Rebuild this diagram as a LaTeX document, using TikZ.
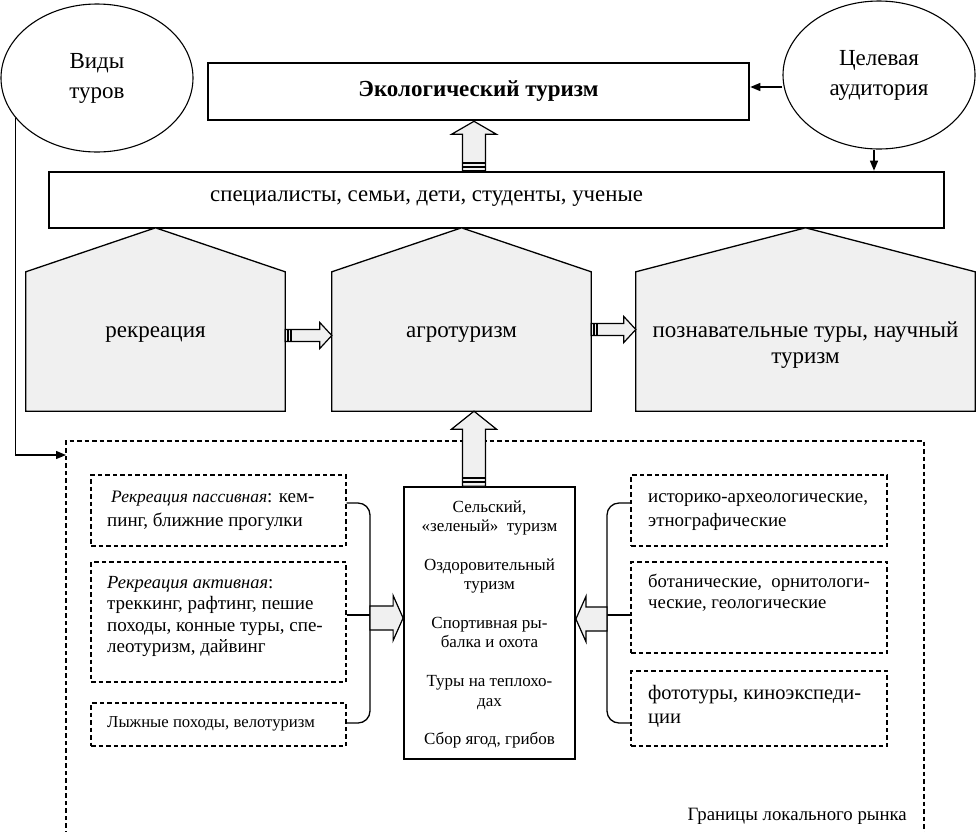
\documentclass[tikz,border=0pt]{standalone}
\usepackage{fontspec}
\setmainfont{Liberation Serif}
\usetikzlibrary{shapes.geometric,arrows.meta,calc}
\definecolor{shadegray}{HTML}{F0F0F0}
\newcommand{\fsz}[2]{\fontsize{#1}{#2}\selectfont}
\newcommand{\tabL}[1]{\begin{tabular}[t]{@{}l@{}}#1\end{tabular}}
\newcommand{\tabC}[1]{\begin{tabular}[t]{@{}c@{}}#1\end{tabular}}
% vertical block arrow (upwards): tail, tip, shaft half, head half, head length
\newcommand{\blkUp}[5]{%
  \draw[blk] let \p1=(#1), \p2=(#2) in
    (\x1-#3,\y1) -- (\x1-#3,\y2-#5) -- (\x1-#4,\y2-#5) -- (\x1,\y2)
    -- (\x1+#4,\y2-#5) -- (\x1+#3,\y2-#5) -- (\x1+#3,\y1) -- cycle;
  \draw[stripe] let \p1=(#1) in
    (\x1-#3,\y1+4pt) -- (\x1+#3,\y1+4pt)
    (\x1-#3,\y1+8pt) -- (\x1+#3,\y1+8pt);}
% horizontal block arrow to the right
\newcommand{\blkRight}[6]{%
  \draw[blk] let \p1=(#1), \p2=(#2) in
    (\x1,\y1+#3) -- (\x2-#5,\y1+#3) -- (\x2-#5,\y1+#4) -- (\x2,\y1)
    -- (\x2-#5,\y1-#4) -- (\x2-#5,\y1-#3) -- (\x1,\y1-#3) -- cycle;
  \ifnum#6=1
  \draw[stripe] let \p1=(#1) in
    (\x1+2.5pt,\y1+#3) -- (\x1+2.5pt,\y1-#3)
    (\x1+6pt,\y1+#3) -- (\x1+6pt,\y1-#3);
  \fi}
% horizontal block arrow to the left
\newcommand{\blkLeft}[5]{%
  \draw[blk] let \p1=(#1), \p2=(#2) in
    (\x1,\y1+#3) -- (\x2+#5,\y1+#3) -- (\x2+#5,\y1+#4) -- (\x2,\y1)
    -- (\x2+#5,\y1-#4) -- (\x2+#5,\y1-#3) -- (\x1,\y1-#3) -- cycle;}
\begin{document}
\begin{tikzpicture}[x=1pt,y=-1pt,
  ell/.style={draw,ellipse,line width=1.1pt,minimum width=192,minimum height=148,inner sep=0pt,align=center,font=\fsz{23}{30}},
  tbox/.style={draw,line width=2.6pt,inner sep=0pt},
  hbody/.style={inner sep=0pt,minimum height=139},
  house/.style={draw,line width=1.3pt,fill=shadegray,line join=miter},
  htext/.style={anchor=base,inner sep=0pt,font=\fsz{23}{26}},
  dbox/.style={draw,line width=1.2pt,dash pattern=on 4.5pt off 3pt,minimum width=255,inner sep=0pt},
  cbox/.style={draw,line width=1.8pt,inner sep=0pt},
  btext/.style={anchor=base west,inner sep=0pt},
  blk/.style={draw,line width=1.2pt,fill=shadegray,line join=miter},
  stripe/.style={line width=1.6pt},
  conn/.style={line width=1.3pt,-{Triangle[length=10pt,width=8pt]}},
  brace/.style={line width=1.3pt,rounded corners=12pt}]
\useasboundingbox (0,0) rectangle (976,831);

% ellipses
\node[ell] (vidy) at (97,78) {Виды\\туров};
\node[ell] (tsel) at (879,75) {Целевая\\аудитория};

% top boxes
\node[tbox,minimum width=541,minimum height=57,font=\fsz{23}{26}\bfseries] (eco) at (478.5,91.5) {Экологический туризм};
\node[tbox,minimum width=895,minimum height=56] (aud) at (496.5,200) {};
\node[btext,font=\fsz{22.8}{26}] (audtxt) at (210,201) {специалисты, семьи, дети, студенты, ученые};

% house bodies
\node[hbody,minimum width=259] (rec) at (155.5,341.5) {};
\node[hbody,minimum width=259] (agro) at (461.5,341.5) {};
\node[hbody,minimum width=339] (pozn) at (805.5,341.5) {};
\foreach \h in {rec,agro,pozn}{
  \draw[house] (\h.south west) -- (\h.north west) -- ($(\h.north)+(0,-44)$)
    -- (\h.north east) -- (\h.south east) -- cycle;}
\node[htext] (rectxt) at (155.5,337) {рекреация};
\node[htext] (agrotxt) at (461.5,337) {агротуризм};
\node[htext] (pozntxt) at (805.5,337) {\tabC{познавательные туры, научный\\туризм}};

% connectors from ellipses
\draw[conn] (tsel.west |- 0,87) -- (eco.east |- 0,87);
\draw[conn] ($(tsel.south)+(-5,0)$) -- ($(aud.north)+(377.5,0)$);
\coordinate (region) at (66,455);
\draw[conn] (vidy.206) |- (region);

% block arrows
\blkUp{aud.north -| 474,0}{eco.south -| 474,0}{11.5pt}{22.5pt}{13pt}
\blkRight{$(rec.east)+(0,-6)$}{$(agro.west)+(0,-6)$}{6pt}{13pt}{12pt}{1}
\blkRight{$(agro.east)+(0,-12)$}{$(pozn.west)+(0,-12)$}{6pt}{13pt}{12pt}{1}

% local market region (dashed, open at the bottom)
\draw[line width=1.2pt,dash pattern=on 4.5pt off 3pt] (66,835) -- (66,441) -- (924,441) -- (924,835);
\node[anchor=base east,inner sep=0pt,font=\fsz{18.8}{22}] (border) at (907,820) {Границы локального рынка};

% centre box
\node[cbox,minimum width=171,minimum height=272] (ctr) at (489.5,623) {};
\node[anchor=base,inner sep=0pt,font=\fsz{17}{19.4}] (ctrtxt) at (489.5,512) {\tabC{Сельский,\\«зеленый»\ \ туризм\\ \\Оздоровительный\\туризм\\ \\Спортивная ры-\\балка и охота\\ \\Туры на теплохо-\\дах\\ \\Сбор ягод, грибов}};
\blkUp{ctr.north -| 474,0}{agro.south -| 474,0}{11.5pt}{22.5pt}{18pt}

% left dashed boxes
\node[dbox,minimum height=71] (bA) at (218.5,510.5) {};
\node[dbox,minimum height=120] (bB) at (218.5,622) {};
\node[dbox,minimum height=43] (bC) at (218.5,724.5) {};
\node[btext,font=\fsz{19}{24}] (tA) at (107,502) {\tabL{\hspace{4pt}{\fsz{17.5}{24}\itshape Рекреация пассивная}: кем-\\пинг, ближние прогулки}};
\node[btext,font=\fsz{19}{21.5}] (tB) at (107,588) {\tabL{{\fsz{18.5}{21.5}\itshape Рекреация активная}:\\треккинг, рафтинг, пешие\\походы, конные туры, спе-\\леотуризм, дайвинг}};
\node[btext,font=\fsz{16.7}{19}] (tC) at (107,727) {Лыжные походы, велотуризм};

% right dashed boxes
\node[dbox,minimum width=256,minimum height=71] (bD) at (759,510.5) {};
\node[dbox,minimum width=256,minimum height=91] (bE) at (759,607.5) {};
\node[dbox,minimum width=256,minimum height=75] (bF) at (759,708.5) {};
\node[btext,font=\fsz{18.9}{24}] (tD) at (648,502) {\tabL{историко-археологические,\\этнографические}};
\node[btext,font=\fsz{18.7}{21}] (tE) at (648,587) {\tabL{ботанические,\ \ орнитологи-\\ческие, геологические}};
\node[btext,font=\fsz{20.5}{24}] (tF) at (648,699) {\tabL{фототуры, киноэкспеди-\\ции}};

% braces
\draw[brace] ($(bA.east)+(0,-7.5)$) -- (370,503) -- (370,723) -- ($(bC.east)+(0,-1.5)$);
\draw[line width=1.3pt] ($(bB.east)+(0,-7)$) -- (370,615);
\draw[brace] ($(bD.west)+(0,-7.5)$) -- (607,503) -- (607,723) -- ($(bF.west)+(0,14.5)$);
\draw[line width=1.3pt] ($(bE.west)+(0,7.5)$) -- (607,615);
\blkRight{370,618}{ctr.west |- 0,618}{12pt}{22.5pt}{10pt}{0}
\blkLeft{607,619}{ctr.east |- 0,619}{12pt}{22.5pt}{10pt}
\end{tikzpicture}
\end{document}
